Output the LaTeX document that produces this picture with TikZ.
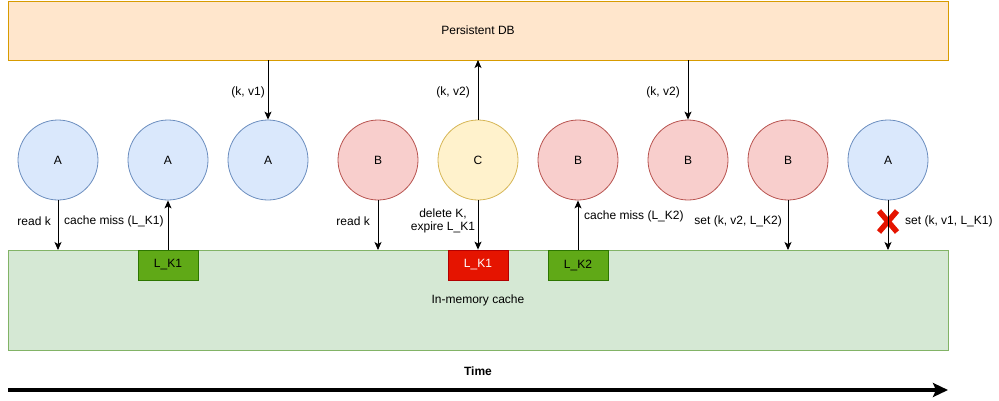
\documentclass[tikz,border=0pt]{standalone}
\usepackage{fontspec}
\setmainfont{Liberation Sans}
\usetikzlibrary{arrows.meta}
\definecolor{blueF}{HTML}{DAE8FC}\definecolor{blueS}{HTML}{6C8EBF}
\definecolor{redF}{HTML}{F8CECC}\definecolor{redS}{HTML}{B85450}
\definecolor{yelF}{HTML}{FFF2CC}\definecolor{yelS}{HTML}{D6B656}
\definecolor{orF}{HTML}{FFE6CC}\definecolor{orS}{HTML}{D79B00}
\definecolor{grF}{HTML}{D5E8D4}\definecolor{grS}{HTML}{82B366}
\definecolor{lockG}{HTML}{60A917}\definecolor{lockGS}{HTML}{2D7600}
\definecolor{lockR}{HTML}{E51400}\definecolor{lockRS}{HTML}{B20000}
\tikzset{
  every node/.style={font=\fontsize{12}{14}\selectfont},
  proc/.style={circle, draw, line width=0.8pt, minimum size=80pt, inner sep=0pt},
  pa/.style={proc, fill=blueF, draw=blueS},
  pb/.style={proc, fill=redF, draw=redS},
  pc/.style={proc, fill=yelF, draw=yelS},
  lockbox/.style={draw, line width=0.8pt, minimum width=60pt, minimum height=30pt, inner sep=0pt},
  lbl/.style={inner sep=0pt},
  conn/.style={line width=0.9pt, -{Stealth[length=8pt,width=7pt,inset=2pt]}},
}
\begin{document}
\begin{tikzpicture}[x=1pt,y=-1pt]
\useasboundingbox (0,0) rectangle (999,400);
% boxes
\node[draw=orS, fill=orF, line width=0.8pt, minimum width=940pt, minimum height=59pt, inner sep=0pt] (db) at (478,30.5) {Persistent DB};
\node[draw=grS, fill=grF, line width=0.8pt, minimum width=940pt, minimum height=100pt, inner sep=0pt] (cache) at (478,300) {};
\node[lbl] (cachelbl) at (478,300) {In-memory cache};
% processes
\node[pa] (a1) at (58,160) {A};
\node[pa] (a2) at (168,160) {A};
\node[pa] (a3) at (268,160) {A};
\node[pb] (b1) at (378,160) {B};
\node[pc] (c1) at (478,160) {C};
\node[pb] (b2) at (578,160) {B};
\node[pb] (b3) at (688,160) {B};
\node[pb] (b4) at (788,160) {B};
\node[pa] (a4) at (888,160) {A};
% locks
\node[lockbox, fill=lockG, draw=lockGS] (lk1) at (168,265) {L\_K1};
\node[lockbox, fill=lockR, draw=lockRS, text=white] (lk1x) at (478,265) {L\_K1};
\node[lockbox, fill=lockG, draw=lockGS] (lk2) at (578,265) {L\_K2};
% coordinates on cache top edge
\coordinate (c1in) at (58,250);
\coordinate (c2in) at (378,250);
\coordinate (c3in) at (788,250);
\coordinate (c4in) at (888,250);
\coordinate (db1) at (268,60);
\coordinate (db2) at (478,60);
\coordinate (db3) at (688,60);
% red X (behind the connector)
\coordinate (xc) at (888,221.5);
\draw[lockR, line width=5.5pt] ([shift={(-9,-10.5)}]xc) -- ([shift={(9,10.5)}]xc);
\draw[lockR, line width=5.5pt] ([shift={(9,-10.5)}]xc) -- ([shift={(-9,10.5)}]xc);
% connectors
\draw[conn] (a1.south) -- (c1in);
\draw[conn] (lk1.north) -- (a2.south);
\draw[conn] (db1) -- (a3.north);
\draw[conn] (b1.south) -- (c2in);
\draw[conn] (c1.north) -- (db2);
\draw[conn] (c1.south) -- (lk1x.north);
\draw[conn] (lk2.north) -- (b2.south);
\draw[conn] (db3) -- (b3.north);
\draw[conn] (b4.south) -- (c3in);
\draw[conn] (a4.south) -- (c4in);
% labels
\node[lbl, anchor=east] (l1) at (51,221) {read k};
\node[lbl, anchor=west] (l2) at (64,221) {cache miss (L\_K1)};
\node[lbl, anchor=east] (l3) at (265,92) {(k, v1)};
\node[lbl, anchor=east] (l4) at (370,221) {read k};
\node[lbl, anchor=east] (l5) at (470,92) {(k, v2)};
\node[lbl, align=center] (l6) at (443,221) {delete K,\\[-1pt]expire L\_K1};
\node[lbl, anchor=west] (l7) at (584,216) {cache miss (L\_K2)};
\node[lbl, anchor=east] (l8) at (680,92) {(k, v2)};
\node[lbl, anchor=east] (l9) at (782,221) {set (k, v2, L\_K2)};
\node[lbl, anchor=west] (l10) at (905,221) {set (k, v1, L\_K1)};
% time
\node[lbl, font=\fontsize{12}{14}\selectfont\bfseries] (time) at (478,371) {Time};
\coordinate (t0) at (8,390);
\coordinate (t1) at (948,390);
\draw[line width=3.5pt, -{Stealth[length=15pt,width=14pt,inset=3pt]}] (t0) -- (t1);
\end{tikzpicture}
\end{document}
